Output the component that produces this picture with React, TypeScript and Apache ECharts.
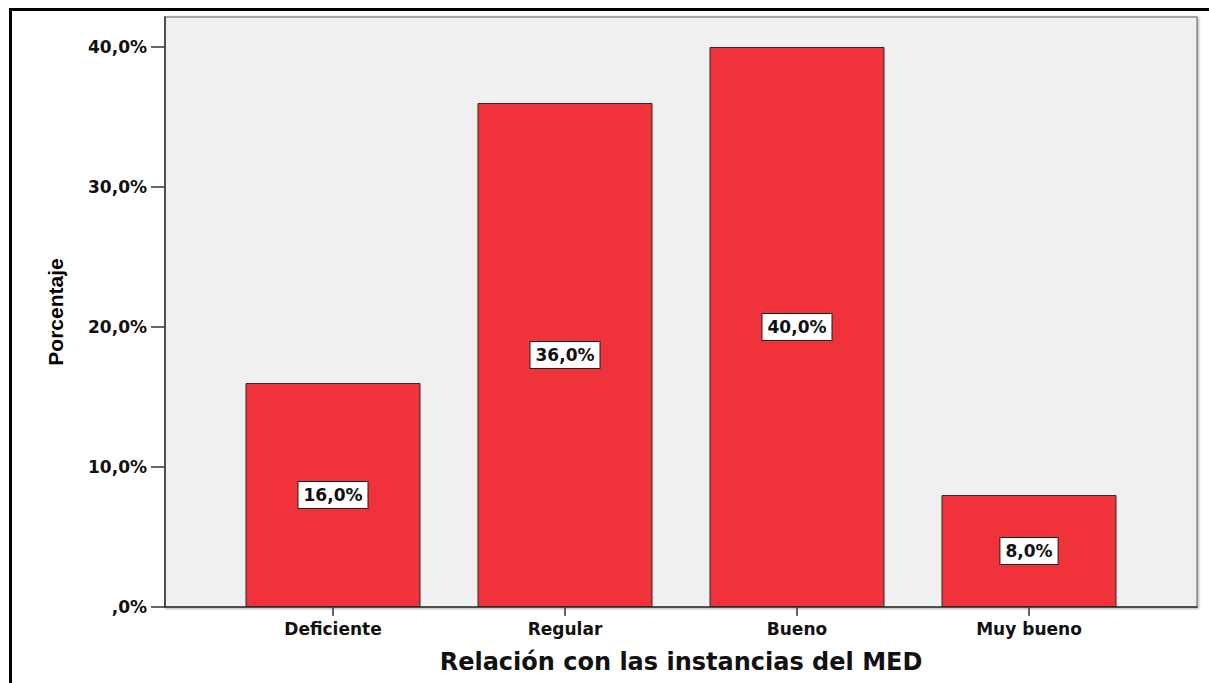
import React, { useEffect, useRef } from "react";
import * as echarts from "echarts";

const categories = ["Deficiente", "Regular", "Bueno", "Muy bueno"];
const percentages = [16.0, 36.0, 40.0, 8.0];
const yTickValues = [0, 10, 20, 30, 40];
const yMax = 42.14;
const xTitle = "Relación con las instancias del MED";
const yTitle = "Porcentaje";

function fmtPct(v: number): string {
  let s = v.toFixed(1).replace(".", ",");
  if (s.startsWith("0,")) s = s.slice(1);
  return s + "%";
}

export default function App() {
  const ref = useRef<HTMLDivElement>(null);
  useEffect(() => {
    if (!ref.current) return;
    const chart = echarts.init(ref.current, null, { renderer: "svg" });
    const labelFont = {
      fontFamily: "DejaVu Sans",
      fontWeight: "bold" as const,
      fontSize: 17,
      color: "#111",
    };
    chart.setOption({
      animation: false,
      backgroundColor: "#ffffff",
      grid: [
        {
          left: 165,
          right: 12,
          top: 17,
          bottom: 76,
          show: true,
          backgroundColor: "#f0f0f0",
          borderColor: "#8a8a8a",
          borderWidth: 1.5,
          shadowColor: "rgba(0,0,0,0.35)",
          shadowBlur: 2,
          shadowOffsetX: 1,
          shadowOffsetY: 1,
        },
        { left: 217, right: 64, top: 17, bottom: 76 },
      ],
      xAxis: [
        {
          type: "value",
          gridIndex: 0,
          min: 0,
          max: 1,
          axisLine: { show: true, lineStyle: { color: "#333", width: 1.5 } },
          axisTick: { show: false },
          axisLabel: { show: false },
          splitLine: { show: false },
        },
        {
          type: "category",
          gridIndex: 1,
          data: categories,
          axisLine: { show: false },
          axisTick: {
            show: true,
            alignWithLabel: true,
            length: 9,
            lineStyle: { color: "#333", width: 1.5 },
          },
          axisLabel: { ...labelFont, margin: 13 },
          name: xTitle,
          nameLocation: "middle",
          nameGap: 43,
          nameTextStyle: {
            fontFamily: "DejaVu Sans",
            fontWeight: "bold",
            fontSize: 24,
            color: "#111",
          },
        },
      ],
      yAxis: [
        {
          type: "value",
          gridIndex: 0,
          min: 0,
          max: yMax,
          interval: 10,
          axisLine: { show: true, lineStyle: { color: "#333", width: 1.5 } },
          axisTick: {
            show: true,
            length: 14,
            customValues: yTickValues,
            lineStyle: { color: "#333", width: 1.5 },
          },
          axisLabel: {
            ...labelFont,
            margin: 18,
            customValues: yTickValues,
            formatter: (v: number) => fmtPct(v),
          },
          splitLine: { show: false },
          name: yTitle,
          nameLocation: "middle",
          nameGap: 99,
          nameTextStyle: {
            fontFamily: "Liberation Sans",
            fontWeight: "bold",
            fontSize: 21,
            color: "#000",
          },
        },
        {
          type: "value",
          gridIndex: 1,
          min: 0,
          max: yMax,
          interval: 10,
          show: false,
        },
      ],
      graphic: [
        {
          type: "polyline",
          shape: {
            points: [
              [10.5, 683],
              [10.5, 9.5],
              [1209, 9.5],
            ],
          },
          style: { stroke: "#000", lineWidth: 3, fill: "none" },
          silent: true,
        },
      ],
      series: [
        {
          type: "bar",
          xAxisIndex: 1,
          yAxisIndex: 1,
          data: percentages,
          barWidth: 175,
          itemStyle: {
            color: "#F0323A",
            borderColor: "#2a2a2a",
            borderWidth: 1,
          },
          label: {
            show: true,
            position: "inside",
            formatter: (p: any) => fmtPct(p.value),
            ...labelFont,
            backgroundColor: "#ffffff",
            borderColor: "#222",
            borderWidth: 1,
            padding: [5, 5, 4, 5],
          },
        },
      ],
    });
    return () => chart.dispose();
  }, []);
  return (
    <div
      ref={ref}
      style={{
        position: "absolute",
        left: 0,
        top: 0,
        width: 1209,
        height: 683,
        background: "#fff",
      }}
    />
  );
}
